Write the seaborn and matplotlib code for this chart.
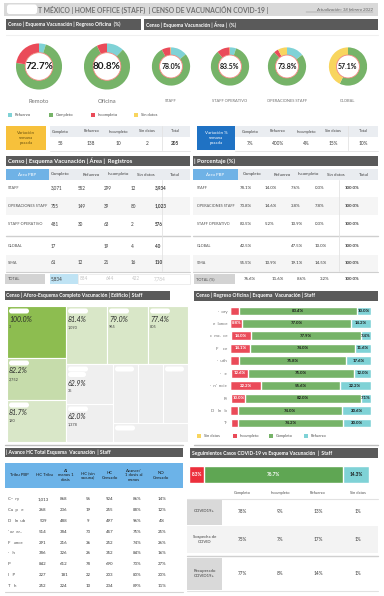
import numpy as np
import pandas as pd
import matplotlib
matplotlib.use("Agg")
import matplotlib.pyplot as plt
from matplotlib.patches import Rectangle, Circle, FancyBboxPatch
import seaborn as sns

sns.set_theme(style="white")
plt.rcParams["font.family"] = ["Lato", "DejaVu Sans"]

# ---------------- colours ----------------
C_REF = "#7fd2d6"
C_COMP = "#76b368"
C_INC = "#ea4b59"
C_SD = "#f8d55e"
DARK = "#5a5a5a"
TXT = "#3a3a3a"
GREY_TXT = "#707070"

# ---------------- data ----------------
donut_names = ["Remoto", "Oficina", "STAFF", "STAFF OPERATIVO", "OPERACIONES STAFF", "GLOBAL"]
donut_ref = [4.8, 12.0, 14.0, 5.2, 14.6, 0.0]
donut_comp = [72.7, 80.8, 78.0, 83.5, 73.8, 57.1]
donut_inc = [22.5, 7.2, 7.6, 10.9, 3.8, 0.0]
donut_sd = [0.0, 0.0, 0.4, 0.3, 7.8, 42.9]

var_cols = ["Completo", "Refuerzo", "Incompleto", "Sin datos", "Total"]
var_abs = ["55", "138", "10", "2", "205"]
var_pct = ["7%", "400%", "4%", "15%", "10%"]

area_names = ["STAFF", "OPERACIONES STAFF", "STAFF OPERATIVO", "GLOBAL", "SIMA"]
area_comp = [3071, 755, 481, 17, 61]
area_ref = [552, 149, 30, 0, 12]
area_inc = [299, 39, 63, 19, 21]
area_sd = [12, 80, 2, 4, 16]
area_total = [3934, 1023, 576, 40, 110]
total_abs = [5834, 884, 644, 422, 7784]
total_pct = [76.6, 11.6, 8.6, 3.2, 100.0]

# treemap: % completo, headcount, cell size
tm_pct = [100.0, 82.2, 81.7, 81.4, 79.0, 77.4, 62.9, 62.0, None, None, None, None]
tm_count = [3, 2752, 180, 1090, 965, 805, 35, 1378, None, None, None, None]
tm_size = [3070, 2480, 2480, 2380, 2380, 2320, 1880, 1790, 1475, 1475, 1475, 1425]
tm_tree = [[0, 1, 2], [[3, 4, 5], [[6, 7], [[8, 9, 10], 11]]]]

bar_cats = ["·  ory", "e  lance", "c  mc.  ce", "F    ce", "·  uth", "·   e", "·  n'  ncie", "R·", "D   In   b", "T·"]
bar_sd = [0.0, 0.0, 0.7, 0.3, 0.0, 0.4, 0.0, 0.9, 0.0, 0.6]
bar_inc = [6.6, 8.8, 14.0, 14.1, 6.6, 12.6, 22.2, 10.0, 5.4, 5.2]
bar_comp = [83.4, 77.0, 77.9, 74.0, 75.8, 75.0, 55.6, 82.0, 74.0, 74.2]
bar_ref = [10.0, 14.2, 7.4, 11.6, 17.6, 12.0, 22.2, 7.1, 20.6, 20.0]

tribu = ["C··  ry", "Cu  p   e", "D   In  ub", "' or  er..", "F   ance", "·   h", "P·", "I   P", "T   h"]
hc_tribu = ["1,013", "268", "509", "514", "291", "386", "842", "227", "252"]
al_menos = ["868", "236", "488", "384", "216", "326", "612", "181", "224"]
sin_vac = ["56", "19", "9", "73", "36", "26", "78", "22", "10"]
hc_censado = ["924", "255", "497", "457", "252", "352", "690", "203", "234"]
avance = ["86%", "88%", "96%", "75%", "74%", "84%", "73%", "80%", "89%"]
no_censado = ["14%", "12%", "4%", "25%", "26%", "16%", "27%", "20%", "11%"]

covid_bar = {"Sin datos": 0.7, "Incompleto": 8.3, "Completo": 76.7, "Refuerzo": 14.3}
covid_rows = ["COVID19+", "Sospecha de\nCOVID", "Recuperado\nCOVID19+"]
covid_comp = ["78%", "75%", "77%"]
covid_inc = ["9%", "7%", "8%"]
covid_ref = ["13%", "17%", "14%"]
covid_sd = ["1%", "1%", "1%"]

# ---------------- canvas ----------------
W, H = 384, 596
fig = plt.figure(figsize=(W / 100, H / 100), dpi=100)
fig.patch.set_facecolor("white")
bg = fig.add_axes([0, 0, 1, 1])
bg.set_xlim(0, W)
bg.set_ylim(H, 0)
bg.axis("off")


def px_axes(x0, y0, w, h):
    return fig.add_axes([x0 / W, 1 - (y0 + h) / H, w / W, h / H])


def box(x0, y0, w, h, color, **kw):
    bg.add_patch(Rectangle((x0, y0), w, h, facecolor=color, edgecolor=kw.pop("ec", "none"), **kw))


def txt(x, y, s, size=3.3, color=TXT, ha="left", weight="normal", **kw):
    bg.text(x, y, s, fontsize=size, color=color, ha=ha, va="center", weight=weight, **kw)


def hline(x0, x1, y, color="#d0d0d0", lw=0.6):
    bg.plot([x0, x1], [y, y], color=color, lw=lw)


def blob(x0, y0, w, h):
    bg.add_patch(FancyBboxPatch((x0, y0), w, h, boxstyle="round,pad=0,rounding_size=2.5",
                                facecolor="white", edgecolor="none"))


def header(x0, y0, w, h, s, size=3.6):
    box(x0, y0, w, h, DARK)
    txt(x0 + 1.5, y0 + h / 2, s, size=size, color="white", weight="bold")


# ---------------- title ----------------
box(4, 3, 374, 12.5, "#d9d9d9")
blob(7, 4.5, 30, 9.5)
txt(38, 9.5, "T MÉXICO | HOME OFFICE (STAFF)  | CENSO DE VACUNACIÓN COVID-19 |",
    size=4.9, color=GREY_TXT, weight="bold")
txt(373, 9.3, "Actualización: 18 febrero 2022", size=3.2, color="#606060", ha="right", style="italic")
hline(306, 373, 11.6, color="#808080", lw=0.3)

header(6, 19, 135, 11, "Censo | Esquema Vacunación | Regreso Oficina  (%)")
header(144, 19, 234, 11, "Censo | Esquema Vacunación | Área |  (%)")
hline(6, 378, 35, color="#f0f0f0", lw=0.8)

# ---------------- donuts ----------------
donut_pos = [(39, 66.5, 23.5), (107, 66.5, 23.5), (171, 66.5, 19.5),
             (230, 66.5, 19.5), (287, 66.5, 19.5), (348, 66.5, 19.5)]
for i, (cx, cy, r) in enumerate(donut_pos):
    ax = px_axes(cx - r, cy - r, 2 * r, 2 * r)
    vals = [donut_ref[i], donut_comp[i], donut_inc[i], donut_sd[i]]
    ax.pie(vals, colors=[C_REF, C_COMP, C_INC, C_SD], startangle=90, counterclock=False,
           radius=1, wedgeprops=dict(width=0.4, edgecolor="none"))
    ax.add_patch(Circle((0, 0), 0.6, facecolor="white", edgecolor="#f0857c", lw=0.6))
    ax.text(0, 0, f"{donut_comp[i]:.1f}%", ha="center", va="center", color="#1a1a1a",
            fontsize=7.2 if r > 20 else 5.0, weight="bold")
    ax.set_xlim(-1.02, 1.02)
    ax.set_ylim(-1.02, 1.02)
    ax.set_aspect("equal")
    ax.axis("off")
    txt(cx, 101.5, donut_names[i], size=4.2 if i < 2 else 2.9, color=GREY_TXT, ha="center")

legend_items = [("Refuerzo", C_REF), ("Completo", C_COMP), ("Incompleto", C_INC), ("Sin datos", C_SD)]
for (lab, colr), x in zip(legend_items, [8, 49, 91, 134]):
    box(x, 113, 4, 4, colr)
    txt(x + 7, 115, lab, size=3.0, color="#505050")

# ---------------- variation tables ----------------
box(6, 126, 40, 24, "#f7c13b")
txt(26, 138, "Variación\nsemana\npasada", size=3.2, color="#6b5310", ha="center", linespacing=1.3)
box(50, 126, 140, 11, "#eaedf1")
hline(50, 190, 150.5, color="#e0e0e0")
bg.plot([162, 162], [126, 150], color="#e3e3e3", lw=0.6)
for c, v, x in zip(var_cols, var_abs, [60, 91, 118, 147, 175]):
    txt(x, 131.5, c, size=2.9, color="#404040", ha="center")
    txt(x, 143.5, v, size=3.4, color=TXT, ha="center", weight="bold" if c == "Total" else "normal")

box(197, 126, 38, 24, "#1f72c4")
txt(216, 138, "Variación %\nsemana\npasada", size=3.2, color="white", ha="center", linespacing=1.3)
box(235, 126, 143, 11, "#eaedf1")
hline(235, 378, 150.5, color="#e0e0e0")
bg.plot([348, 348], [126, 150], color="#e3e3e3", lw=0.6)
for c, v, x in zip(var_cols, var_pct, [250, 278, 306, 333, 363]):
    txt(x, 131.5, c, size=2.9, color="#404040", ha="center")
    txt(x, 143.5, v, size=3.4, color=TXT, ha="center")

# ---------------- area tables ----------------
header(6, 156, 184, 10, "Censo | Esquema Vacunación | Área |  Registros", size=4.2)
header(193, 156, 185, 10, "| Porcentaje (%)", size=4.2)

row_y = [188, 206, 224, 246, 263]
for x0, blue_w, width, hx in [(6, 43, 184, [60, 91, 118, 146, 175]),
                              (193, 45, 185, [252, 282, 308, 336, 364])]:
    box(x0, 169, blue_w, 11, "#6fb2e6")
    txt(x0 + blue_w / 2, 174.5, "Área PBP", size=3.2, color="white", ha="center")
    box(x0 + blue_w, 169, width - blue_w, 11, "#e9ecf0")
    for c, x in zip(var_cols, hx):
        txt(x, 174.5, c, size=3.2, color="#404040", ha="center")
    box(x0, 197, width, 18, "#f5f5f5")
    box(x0, 254.5, width, 17, "#f5f5f5")
    hline(x0, x0 + width, 235.5, color="#cfcfcf", lw=1.0)
    hline(x0, x0 + width, 271.5, color="#cfcfcf", lw=0.8)

bg.plot([162, 162], [180, 271], color="#e3e3e3", lw=0.6)
bg.plot([339, 339], [180, 271], color="#e3e3e3", lw=0.6)

for i, name in enumerate(area_names):
    y = row_y[i]
    txt(8, y, name, size=2.8, color="#505050")
    txt(197, y, name, size=2.7, color="#505050")
    vals = [area_comp[i], area_ref[i], area_inc[i], area_sd[i]]
    for v, x in zip(vals, [51, 78, 104, 131]):
        if v:
            txt(x, y, f"{v:,}", size=3.3)
    txt(155, y, f"{area_total[i]:,}", size=3.3, weight="bold")
    for v, x in zip(vals, [240, 265, 291, 315]):
        if v:
            txt(x, y, f"{100 * v / area_total[i]:.1f}%", size=3.2)
    txt(345, y, "100.0%", size=3.2, weight="bold")

# total rows
box(5, 274, 40, 10, "#d3d3d3")
txt(8, 279, "TOTAL", size=2.8, color="#505050")
box(50, 274, 28, 10, "#bfe3f4")
box(78, 274, 112, 10, "white", ec="#e6e6e6", lw=0.5)
for j, (v, x) in enumerate(zip(total_abs, [57, 84, 110, 136, 160])):
    txt(x, 279, f"{v:,}", size=3.3, color=TXT if j == 0 else "#c4c4c4", ha="center")
box(194, 274, 41, 10, "#d3d3d3")
txt(196, 279, "TOTAL (%)", size=2.8, color="#505050")
for j, (v, x) in enumerate(zip(total_pct, [244, 272, 297, 320, 345])):
    txt(x, 279, f"{v:.1f}%", size=3.2, weight="bold" if j == 4 else "normal")

# ---------------- treemap ----------------
header(5, 291, 165, 9, "Censo | Aforo-Esquema Completo Vacunación | Edificio | Staff", size=3.6)


def node_size(n):
    return tm_size[n] if isinstance(n, int) else sum(node_size(c) for c in n)


def layout(node, x, y, w, h, horiz, out):
    if isinstance(node, int):
        out[node] = (x, y, w, h)
        return
    tot = node_size(node)
    pos = 0
    for c in node:
        s = node_size(c)
        if horiz:
            layout(c, x + w * pos / tot, y, w * s / tot, h, not horiz, out)
        else:
            layout(c, x, y + h * pos / tot, w, h * s / tot, not horiz, out)
        pos += s


def tm_colour(p):
    if p is None or p < 70:
        return "#efefef"
    if p >= 90:
        return "#8dbd50"
    if p >= 82:
        return "#c6dcab"
    return "#d9e7c8"


cells = {}
layout(tm_tree, 7, 306, 181, 136, True, cells)
for k, (x, y, w, h) in cells.items():
    box(x, y, w, h, tm_colour(tm_pct[k]), ec="white", lw=0.8)
    if k != 9:
        blob(x + 2, y + 2.5, min(20, w - 6), 5)
    if tm_pct[k] is not None:
        dy = 6 if k == 6 else 0
        if k == 6:
            blob(x + 2, y + 8, 18, 5)
        txt(x + 2, y + 13 + dy, f"{tm_pct[k]:.1f}%", size=5.0, color="#2a2a2a", style="italic")
        txt(x + 2, y + 21 + dy, f"{tm_count[k]:,}", size=2.8, color="#404040")
hline(5, 183, 445, color="#bdbdbd", lw=1.0)

# ---------------- stacked bars ----------------
header(194, 291, 184, 9.5, "Censo | Regreso Oficina | Esquema  Vacunación | Staff", size=3.6)

bar_df = pd.DataFrame({"cat": bar_cats, "sd": bar_sd, "inc": bar_inc, "comp": bar_comp, "ref": bar_ref})
cum = bar_df[["sd", "inc", "comp", "ref"]].cumsum(axis=1)
axb = px_axes(230, 304.8, 141, 124.4)
for col, colr in [("ref", C_REF), ("comp", C_COMP), ("inc", C_INC), ("sd", C_SD)]:
    sns.barplot(x=cum[col], y=bar_df["cat"], color=colr, saturation=1, width=0.72,
                orient="h", ax=axb)
axb.set_xlim(0, 100)
axb.set_ylim(len(bar_cats) - 0.5, -0.5)
axb.set_xlabel("")
axb.set_ylabel("")
axb.set_xticks([])
axb.tick_params(axis="y", length=0, pad=2, labelsize=3.2, labelcolor=GREY_TXT)
for s in axb.spines.values():
    s.set_visible(False)
axb.set_facecolor("none")
for i in range(len(bar_df)):
    left = bar_df.loc[i, "sd"]
    for col, colr, tcol in [("inc", C_INC, "white"), ("comp", C_COMP, "#1a1a1a"), ("ref", C_REF, "#1a1a1a")]:
        v = bar_df.loc[i, col]
        if v >= 7:
            axb.text(left + v / 2, i, f"{v:.1f}%", ha="center", va="center", fontsize=3.2,
                     color=tcol, weight="bold")
        left += v

for (lab, colr), x in zip([("Sin datos", C_SD), ("Incompleto", C_INC), ("Completo", C_COMP), ("Refuerzo", C_REF)],
                          [197, 233, 269, 304]):
    box(x, 434, 4, 4, colr)
    txt(x + 7, 436, lab, size=2.9, color="#505050")
hline(194, 378, 445, color="#bdbdbd", lw=1.0)

# ---------------- avance table ----------------
header(5, 448, 178, 9, "| Avance HC Total Esquema  Vacunación  | Staff", size=3.6)
box(5, 463, 178, 25, "#6cb3e8")
head_labels = ["Tribu PBP", "HC Tribu", "Al\nmenos 1\ndosis", "HC (sin\nvacuna)", "HC\nCensado",
               "Avance/\n1 dosis al\nmenos", "NO\nCensado"]
for lab, x in zip(head_labels, [19, 44, 66, 88, 110, 134, 161]):
    txt(x, 475.5, lab, size=3.1, color="#1a1a1a", ha="center", linespacing=1.2)
cols = [hc_tribu, al_menos, sin_vac, hc_censado, avance, no_censado]
for i, name in enumerate(tribu):
    y = 499 + 10.9 * i
    txt(8, y, name, size=3.2, color="#505050")
    for col, x in zip(cols, [43, 64, 88, 110, 137, 162]):
        txt(x, y, col[i], size=3.2, ha="center")
hline(5, 183, 592, color="#d5d5d5", lw=0.8)

# ---------------- covid follow-up ----------------
header(190, 448, 188, 10, "Seguimientos Casos COVID-19 vs Esquema Vacunación  |  Staff", size=3.6)
axc = px_axes(188, 466, 181, 17)
cdf = pd.DataFrame({"k": ["Staff"], **{k: [v] for k, v in covid_bar.items()}})
ccum = cdf[list(covid_bar)].cumsum(axis=1)
for col, colr in [("Refuerzo", C_REF), ("Completo", "#5fa653"), ("Incompleto", "#ec2f3c"), ("Sin datos", C_SD)]:
    sns.barplot(x=ccum[col], y=cdf["k"], color=colr, saturation=1, width=1.0, orient="h", ax=axc)
axc.set_xlim(0, 100)
axc.set_ylim(0.5, -0.5)
axc.axis("off")
left = covid_bar["Sin datos"]
for col, tcol in [("Incompleto", "white"), ("Completo", "white"), ("Refuerzo", "#1a1a1a")]:
    v = covid_bar[col]
    axc.text(left + v / 2, 0, f"{v:.1f}%", ha="center", va="center", fontsize=3.4, color=tcol, weight="bold")
    left += v

for c, x in zip(["Completo", "Incompleto", "Refuerzo", "Sin datos"], [242, 280, 318, 358]):
    txt(x, 493, c, size=2.9, color="#505050", ha="center")
hline(187, 378, 498.5, color="#e2e2e2", lw=0.8)
box(187, 526, 191, 27, "#f3f3f3")
hline(187, 378, 556, color="#d0d0d0", lw=1.0)
hline(187, 378, 591, color="#e2e2e2", lw=0.8)
box(187, 499, 35, 26, "#d9d9d9")
box(187, 558, 35, 32, "#d9d9d9")
for i, (lab, y) in enumerate(zip(covid_rows, [511.5, 539.5, 573.5])):
    txt(204.5, y, lab, size=3.1, color="#404040", ha="center", linespacing=1.2)
    for col, x in zip([covid_comp, covid_inc, covid_ref, covid_sd], [242, 280, 318, 358]):
        txt(x, y, col[i], size=3.4, ha="center")

fig.savefig("out.png", dpi=100)
